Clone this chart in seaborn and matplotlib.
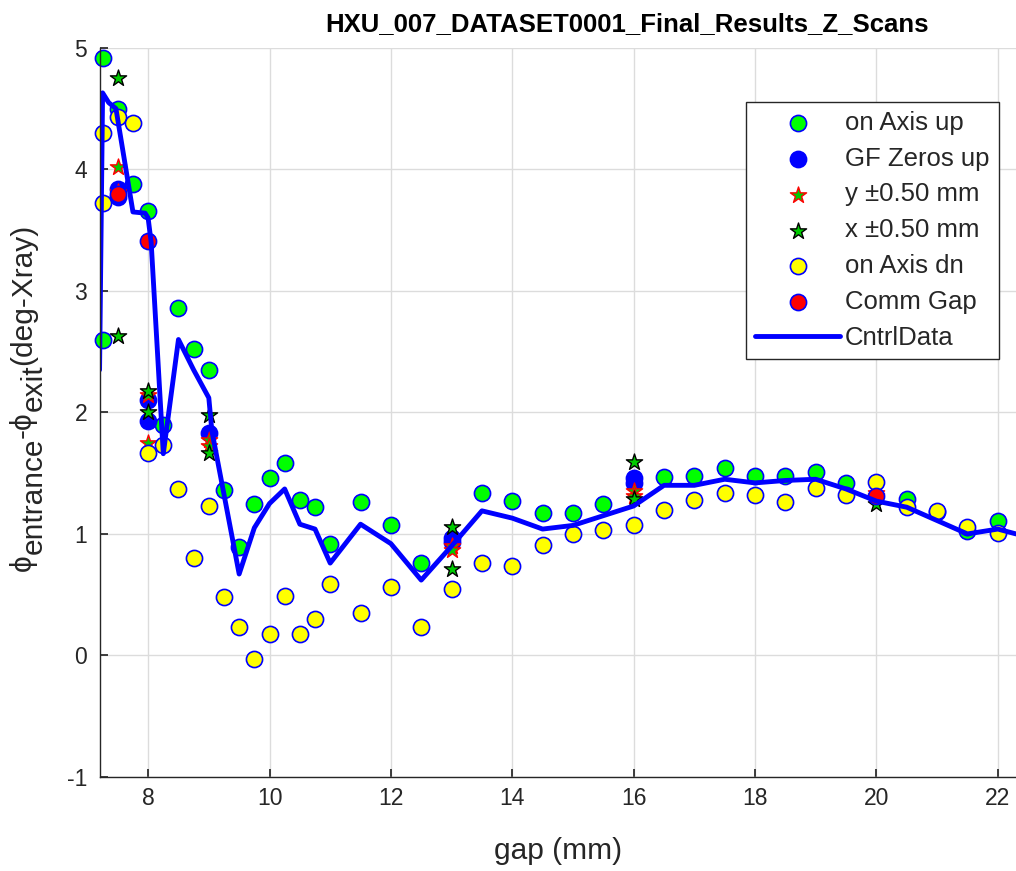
import pandas as pd
import seaborn as sns
import matplotlib.pyplot as plt

# data
up_gap = [7.25, 7.25, 7.5, 7.75, 8.0, 8.25, 8.5, 8.75, 9.0, 9.25, 9.5, 9.75, 10.0, 10.25,
          10.5, 10.75, 11.0, 11.5, 12.0, 12.5, 13.5, 14.0, 14.5, 15.0, 15.5, 16.5, 17.0,
          17.5, 18.0, 18.5, 19.0, 19.5, 20.5, 21.0, 21.5, 22.0]
up_val = [4.92, 2.60, 4.50, 3.88, 3.66, 1.90, 2.86, 2.52, 2.35, 1.36, 0.89, 1.25, 1.46, 1.58,
          1.28, 1.22, 0.92, 1.26, 1.07, 0.76, 1.34, 1.27, 1.17, 1.17, 1.25, 1.47, 1.48,
          1.54, 1.48, 1.48, 1.51, 1.42, 1.29, 1.18, 1.02, 1.11]

dn_gap = [7.25, 7.25, 7.5, 7.75, 8.0, 8.25, 8.5, 8.75, 9.0, 9.25, 9.5, 9.75, 10.0, 10.25,
          10.5, 10.75, 11.0, 11.5, 12.0, 12.5, 13.0, 13.5, 14.0, 14.5, 15.0, 15.5, 16.0,
          16.5, 17.0, 17.5, 18.0, 18.5, 19.0, 19.5, 20.0, 20.5, 21.0, 21.5, 22.0]
dn_val = [4.30, 3.72, 4.43, 4.38, 1.67, 1.73, 1.37, 0.80, 1.23, 0.48, 0.23, -0.03, 0.18, 0.49,
          0.18, 0.30, 0.59, 0.35, 0.56, 0.23, 0.55, 0.76, 0.74, 0.91, 1.00, 1.03, 1.07,
          1.20, 1.28, 1.34, 1.32, 1.26, 1.38, 1.32, 1.43, 1.22, 1.19, 1.06, 1.01]

gf_gap = [7.5, 7.5, 8.0, 8.0, 9.0, 13.0, 13.0, 16.0, 16.0]
gf_val = [3.84, 3.77, 2.10, 1.93, 1.83, 0.97, 0.93, 1.46, 1.42]

ys_gap = [7.5, 7.5, 8.0, 8.0, 9.0, 9.0, 13.0, 13.0, 16.0, 16.0, 20.0, 20.0]
ys_val = [4.02, 3.81, 2.14, 1.75, 1.77, 1.72, 0.90, 0.87, 1.35, 1.31, 1.34, 1.31]

xs_gap = [7.5, 7.5, 8.0, 8.0, 9.0, 9.0, 13.0, 13.0, 16.0, 16.0, 20.0]
xs_val = [4.75, 2.63, 2.18, 2.00, 1.98, 1.67, 1.06, 0.71, 1.59, 1.29, 1.25]

comm_gap = [7.5, 8.0, 20.0]
comm_val = [3.80, 3.41, 1.31]

ctrl_gap = [7.2, 7.25, 7.35, 7.47, 7.75, 7.95, 8.0, 8.05, 8.25, 8.5, 8.75, 9.0, 9.05, 9.5,
            9.75, 10.0, 10.25, 10.5, 10.75, 11.0, 11.5, 12.0, 12.5, 13.0, 13.5, 14.0, 14.5,
            15.0, 15.5, 16.0, 16.5, 17.0, 17.5, 18.0, 18.5, 19.0, 19.5, 20.0, 20.5, 21.0,
            21.5, 22.0, 22.3]
ctrl_val = [2.35, 4.63, 4.55, 4.50, 3.65, 3.64, 3.60, 3.40, 1.66, 2.60, 2.35, 2.12, 1.85, 0.67,
            1.05, 1.25, 1.37, 1.08, 1.04, 0.76, 1.08, 0.92, 0.62, 0.90, 1.19, 1.13, 1.04,
            1.07, 1.15, 1.23, 1.40, 1.40, 1.45, 1.42, 1.44, 1.45, 1.37, 1.27, 1.22, 1.11,
            1.00, 1.04, 1.00]

# y label pieces: (text, is_subscript)
ylabel_parts = [('\u03d5', False), ('entrance', True), ('-\u03d5', False),
                ('exit', True), ('(deg-Xray)', False)]

sns.set_theme(style="whitegrid")
plt.rcParams['font.family'] = ['Liberation Sans', 'DejaVu Sans']
plt.rcParams['axes.unicode_minus'] = False

fig = plt.figure(figsize=(10.16, 8.71), dpi=100)
ax = fig.add_axes([0.098, 0.108, 0.902, 0.837])

circ = 135
star = 150
sns.scatterplot(x=up_gap, y=up_val, ax=ax, marker='o', s=circ, color='#00ff00',
                edgecolor='blue', linewidth=1.2, label='on Axis up', clip_on=False)
sns.scatterplot(x=gf_gap, y=gf_val, ax=ax, marker='o', s=circ, color='blue',
                edgecolor='blue', linewidth=1.2, label='GF Zeros up', clip_on=False)
sns.scatterplot(x=ys_gap, y=ys_val, ax=ax, marker='*', s=star, color='#00cc00',
                edgecolor='red', linewidth=1.0, label='y \u00b10.50 mm', clip_on=False)
sns.scatterplot(x=xs_gap, y=xs_val, ax=ax, marker='*', s=star, color='#00cc00',
                edgecolor='black', linewidth=1.0, label='x \u00b10.50 mm', clip_on=False)
sns.scatterplot(x=dn_gap, y=dn_val, ax=ax, marker='o', s=circ, color='yellow',
                edgecolor='blue', linewidth=1.2, label='on Axis dn', clip_on=False)
sns.scatterplot(x=comm_gap, y=comm_val, ax=ax, marker='o', s=circ, color='red',
                edgecolor='blue', linewidth=1.2, label='Comm Gap', clip_on=False)
ctrl = pd.DataFrame({'gap': ctrl_gap, 'val': ctrl_val})
sns.lineplot(data=ctrl, x='gap', y='val', ax=ax, sort=False, estimator=None,
             color='blue', linewidth=3.5, label='CntrlData')

ax.set_xlim(7.2, 22.3)
ax.set_ylim(-1, 5)
ax.set_xticks(range(8, 23, 2))
ax.set_yticks(range(-1, 6))
ax.grid(True, color='#dcdcdc', linewidth=1)
for side in ['top', 'right']:
    ax.spines[side].set_visible(False)
for side in ['left', 'bottom']:
    ax.spines[side].set_color('#262626')
    ax.spines[side].set_linewidth(1)
ax.tick_params(direction='in', length=6, color='#262626', labelcolor='#262626',
               labelsize=16.5, left=True, bottom=True)
ax.tick_params(axis='y', pad=9)
ax.tick_params(axis='x', pad=7)

ax.set_title('HXU_007_DATASET0001_Final_Results_Z_Scans', fontsize=18.5,
             fontweight='bold', color='black', pad=12, x=0.575)
ax.set_xlabel('gap (mm)', fontsize=21.5, color='#262626', labelpad=20)
ax.set_ylabel('')

# y label built from pieces so the subscripts keep full size like the original
lab_size = 21.5
x_main, x_sub = 9, 20
pieces = []
for txt, sub in ylabel_parts:
    xp = x_sub if sub else x_main
    if not pieces:
        t = ax.annotate(txt, xy=(xp, 300), xycoords='figure pixels', rotation=90,
                        ha='left', va='bottom', fontsize=lab_size, color='#262626',
                        annotation_clip=False)
    else:
        t = ax.annotate(txt, xy=(xp, 1), xycoords=('figure pixels', pieces[-1]),
                        rotation=90, ha='left', va='bottom', fontsize=lab_size,
                        color='#262626', annotation_clip=False)
    pieces.append(t)

leg = ax.legend(loc='upper right', bbox_to_anchor=(0.981, 0.926), borderaxespad=0,
                fontsize=18.5, handlelength=3.3, handletextpad=0.2, labelspacing=0.46,
                borderpad=0.35, fancybox=False, framealpha=1, edgecolor='#262626')
leg.get_frame().set_linewidth(1)

# centre the y label on the axes
fig.canvas.draw()
rend = fig.canvas.get_renderer()
lo = pieces[0].get_window_extent(rend).y0
hi = pieces[-1].get_window_extent(rend).y1
ax_box = ax.get_window_extent(rend)
shift = (ax_box.y0 + ax_box.y1) / 2 - (lo + hi) / 2
pieces[0].xy = (x_main, 300 + shift)

fig.savefig('out.png', dpi=100)
